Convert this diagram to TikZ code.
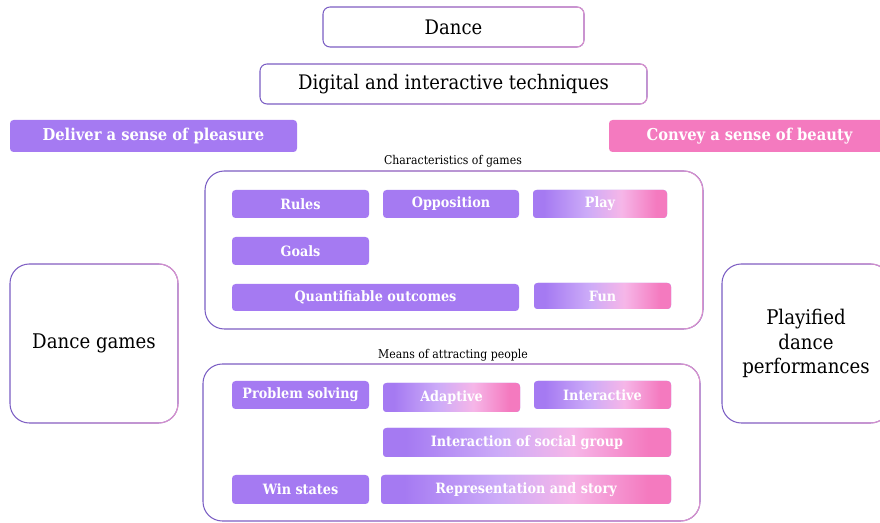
\documentclass[tikz,border=0pt]{standalone}
\usepackage{fontspec}
\setmainfont{DejaVu Serif Condensed}
\usetikzlibrary{fadings}

\definecolor{gamepurple}{HTML}{A57AF2}
\definecolor{beautypink}{HTML}{F47ABF}
\definecolor{lavender}{HTML}{CCABF8}
\definecolor{blush}{HTML}{F6B6E8}
\definecolor{edgepurple}{HTML}{7A5EC4}
\definecolor{edgepink}{HTML}{DE94CC}

% only 25bp..75bp of the shading lands on the box
\pgfdeclarehorizontalshading{boxshade}{100bp}{color(0bp)=(gamepurple); color(29bp)=(gamepurple);
  color(45bp)=(lavender); color(58bp)=(blush); color(71bp)=(beautypink); color(100bp)=(beautypink)}

\begin{document}
\begin{tikzpicture}
  [x=0.02cm,y=-0.02cm,
   every node/.style={inner sep=0pt,align=center},
   wh/.style 2 args={minimum width=#1*0.02cm,minimum height=#2*0.02cm},
   frame/.style={rectangle,rounded corners=4pt,fill=white,draw=edgepurple,line width=0.6pt,
     postaction={draw=edgepink,line width=0.6pt,path fading=west}},
   bigframe/.style={frame,rounded corners=11pt},
   headline/.style={font=\fontsize{11.4}{13}\selectfont},
   sidetext/.style={font=\fontsize{11.5}{14}\selectfont},
   grouplabel/.style={font=\fontsize{6.9}{8}\selectfont},
   aim/.style={rectangle,rounded corners=2pt,text=white,font=\bfseries\fontsize{9.3}{11}\selectfont},
   plain/.style={rectangle,rounded corners=2pt,fill=gamepurple,text=white,font=\bfseries\fontsize{8.1}{9}\selectfont},
   mixed/.style={plain,shading=boxshade}]
  \useasboundingbox (0,0) rectangle (880,523);

  % top
  \node (dance)   at (453.5,27) [frame,headline,wh={261}{40}] {Dance};
  \node (digital) at (453.5,84) [frame,headline,wh={387}{40}] {Digital and interactive techniques};
  \node (pleasure) at (153.5,136) [aim,fill=gamepurple,wh={287}{32}] {Deliver a sense of pleasure};
  \node (beauty)   at (749.5,136) [aim,fill=beautypink,wh={281}{32}] {Convey a sense of beauty};

  % side boxes
  \node (games)    at (94,343.5)  [bigframe,sidetext,wh={168}{159}] {Dance games};
  \node (playified) at (806,343.5) [bigframe,sidetext,wh={168}{159}] {Playified\\dance\\performances};

  % groups
  \node (chars)   at (454,250)    [bigframe,wh={498}{158}] {};
  \node (means)   at (451.5,442.5) [bigframe,wh={497}{157}] {};
  \node (charslabel) at (453,161) [grouplabel] {Characteristics of games};
  \node (meanslabel) at (453,355) [grouplabel] {Means of attracting people};

  \foreach \name/\x/\y/\w/\h/\txt in {rules/300.5/204/137/28/Rules,
      opposition/451/204/136/28/Opposition,
      goals/300.5/251/137/28/Goals,
      outcomes/375.5/297.5/287/27/Quantifiable outcomes,
      solving/300.5/395/137/28/Problem solving,
      win/300.5/489.5/137/29/Win states}
    \node (\name) at (\x,\y) [plain,wh={\w}{\h}] {\txt};

  \foreach \name/\x/\y/\w/\h/\txt in {play/600/204/134/28/Play,
      fun/602.5/296/137/26/Fun,
      adaptive/451.5/397.5/137/29/Adaptive,
      interactive/602.5/395/137/28/Interactive,
      social/527/442.5/288/29/Interaction of social group,
      story/526/489.5/290/29/Representation and story}
    \node (\name) at (\x,\y) [mixed,wh={\w}{\h}] {\txt};

\end{tikzpicture}
\end{document}
